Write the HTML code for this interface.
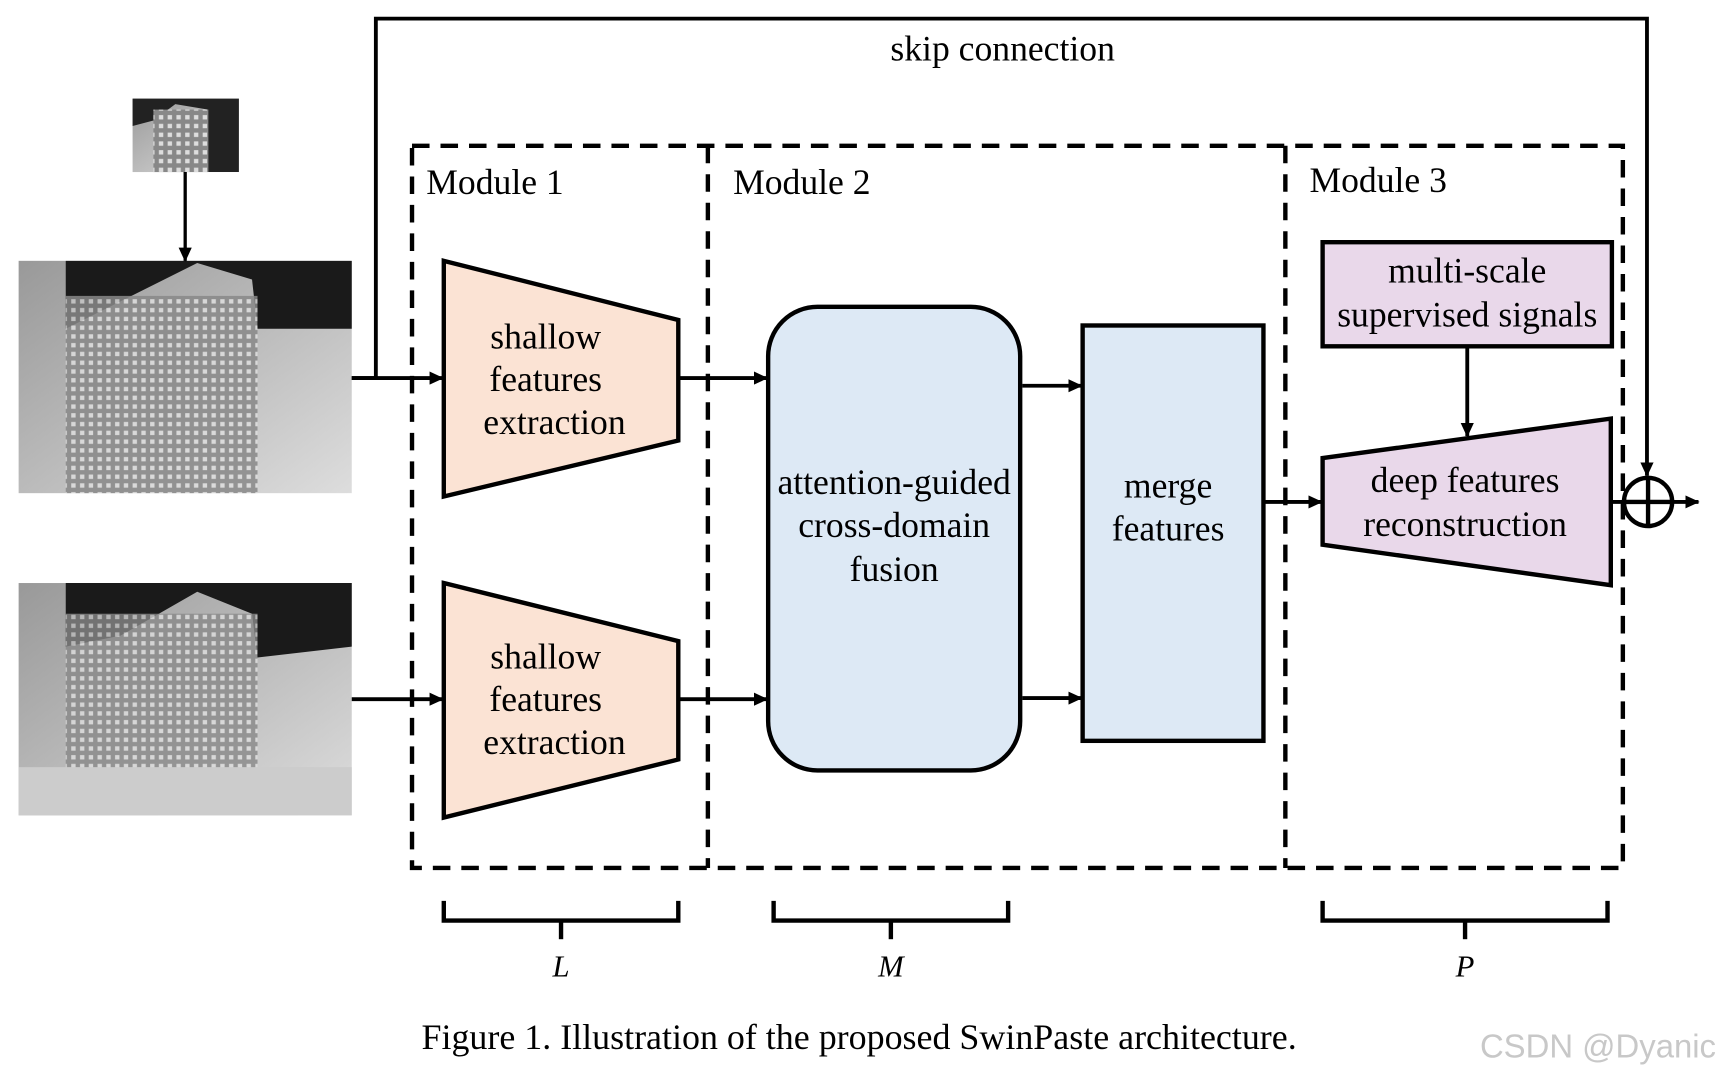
<!DOCTYPE html>
<html><head><meta charset="utf-8"><style>
html,body{margin:0;padding:0;background:#fff}
svg{display:block}
text{font-family:"Liberation Serif",serif;fill:#000}
</style></head><body>
<svg width="1716" height="1074" viewBox="0 0 1566 980" preserveAspectRatio="none" xmlns="http://www.w3.org/2000/svg">
<defs>
<marker id="a" markerWidth="13" markerHeight="12" refX="12" refY="6" orient="auto" markerUnits="userSpaceOnUse"><path d="M0,0 L13,6 L0,12 z" fill="#000"/></marker>
<linearGradient id="g1" x1="0" y1="0" x2="1" y2="1"><stop offset="0" stop-color="#999"/><stop offset="0.5" stop-color="#bbb"/><stop offset="1" stop-color="#ddd"/></linearGradient>
<pattern id="w" width="8" height="8" patternUnits="userSpaceOnUse"><rect width="8" height="8" fill="#888"/><rect x="1" y="1" width="4" height="4" fill="#ddd"/></pattern>
</defs>
<rect x="121" y="90" width="97" height="67" fill="url(#g1)"/>
<polygon points="121,90 218,90 218,157 190,157 190,100 160,95 140,110 121,115" fill="#222"/>
<rect x="140" y="100" width="50" height="57" fill="url(#w)"/>
<rect x="17" y="238" width="304" height="212" fill="url(#g1)"/>
<polygon points="60,238 321,238 321,300 235,300 230,255 180,240 120,270 60,300" fill="#1a1a1a"/>
<rect x="60" y="270" width="175" height="180" fill="url(#w)" opacity="0.85"/>
<rect x="17" y="532" width="304" height="212" fill="url(#g1)"/>
<polygon points="60,532 321,532 321,590 235,600 230,560 180,540 110,580 60,590" fill="#1a1a1a"/>
<rect x="60" y="560" width="175" height="180" fill="url(#w)" opacity="0.8"/>
<rect x="17" y="700" width="304" height="44" fill="#ccc"/>
<line x1="169" y1="157" x2="169" y2="238" stroke="#000" stroke-width="3" marker-end="url(#a)"/>
<polyline points="321,345 343,345 343,17 1503,17 1503,434" fill="none" stroke="#000" stroke-width="3.5" marker-end="url(#a)"/>
<text x="915" y="55" font-size="32.5" text-anchor="middle">skip connection</text>
<rect x="376" y="133" width="1105" height="659" fill="none" stroke="#000" stroke-width="4" stroke-dasharray="16,10"/>
<line x1="646" y1="133" x2="646" y2="792" stroke="#000" stroke-width="4" stroke-dasharray="16,10"/>
<line x1="1173" y1="133" x2="1173" y2="792" stroke="#000" stroke-width="4" stroke-dasharray="16,10"/>
<text x="389" y="177" font-size="32.5">Module 1</text>
<text x="669" y="177" font-size="32.5">Module 2</text>
<text x="1195" y="175" font-size="32.5">Module 3</text>
<polygon points="405,238 619,292 619,402 405,453" fill="#fbe3d4" stroke="#000" stroke-width="4"/>
<polygon points="405,532 619,585 619,693 405,746" fill="#fbe3d4" stroke="#000" stroke-width="4"/>
<g font-size="32.5" text-anchor="middle">
<text x="498" y="318">shallow</text><text x="498" y="357">features</text><text x="506" y="396">extraction</text>
<text x="498" y="610">shallow</text><text x="498" y="649">features</text><text x="506" y="688">extraction</text>
</g>
<g stroke="#000" stroke-width="3.5" marker-end="url(#a)">
<line x1="321" y1="345" x2="404" y2="345"/>
<line x1="321" y1="638" x2="404" y2="638"/>
<line x1="619" y1="345" x2="700" y2="345"/>
<line x1="619" y1="638" x2="700" y2="638"/>
<line x1="933" y1="352" x2="987" y2="352"/>
<line x1="933" y1="637" x2="987" y2="637"/>
<line x1="1153" y1="458" x2="1206" y2="458"/>
<line x1="1339" y1="316" x2="1339" y2="398"/>
<line x1="1470" y1="458" x2="1550" y2="458"/>
</g>
<rect x="701" y="280" width="230" height="423" rx="45" fill="#dde9f5" stroke="#000" stroke-width="4"/>
<g font-size="32.5" text-anchor="middle">
<text x="816" y="451">attention-guided</text><text x="816" y="490">cross-domain</text><text x="816" y="530">fusion</text>
</g>
<rect x="988" y="297" width="165" height="379" fill="#dde9f5" stroke="#000" stroke-width="4"/>
<g font-size="32.5" text-anchor="middle"><text x="1066" y="454">merge</text><text x="1066" y="493">features</text></g>
<rect x="1207" y="221" width="264" height="95" fill="#e9d8ea" stroke="#000" stroke-width="4"/>
<g font-size="32.5" text-anchor="middle"><text x="1339" y="258">multi-scale</text><text x="1339" y="298">supervised signals</text></g>
<polygon points="1207,418 1470,382 1470,534 1207,497" fill="#e9d8ea" stroke="#000" stroke-width="4"/>
<g font-size="32.5" text-anchor="middle"><text x="1337" y="449">deep features</text><text x="1337" y="489">reconstruction</text></g>
<circle cx="1504" cy="458" r="22" fill="#fff" stroke="#000" stroke-width="4"/>
<line x1="1482" y1="458" x2="1526" y2="458" stroke="#000" stroke-width="4"/>
<line x1="1504" y1="436" x2="1504" y2="480" stroke="#000" stroke-width="4"/>
<g fill="none" stroke="#000" stroke-width="4">
<polyline points="405,822 405,840 619,840 619,822"/><line x1="512" y1="840" x2="512" y2="857"/>
<polyline points="706,822 706,840 920,840 920,822"/><line x1="813" y1="840" x2="813" y2="857"/>
<polyline points="1207,822 1207,840 1467,840 1467,822"/><line x1="1337" y1="840" x2="1337" y2="857"/>
</g>
<g font-size="28" font-style="italic" text-anchor="middle">
<text x="512" y="891">L</text><text x="813" y="891">M</text><text x="1337" y="891">P</text>
</g>
<text x="784" y="957" font-size="32.8" text-anchor="middle">Figure 1. Illustration of the proposed SwinPaste architecture.</text>
<text x="1566" y="965" font-size="30" text-anchor="end" style="font-family:'Liberation Sans',sans-serif;fill:#c8c8c8">CSDN @Dyanic</text>
</svg>
</body></html>
